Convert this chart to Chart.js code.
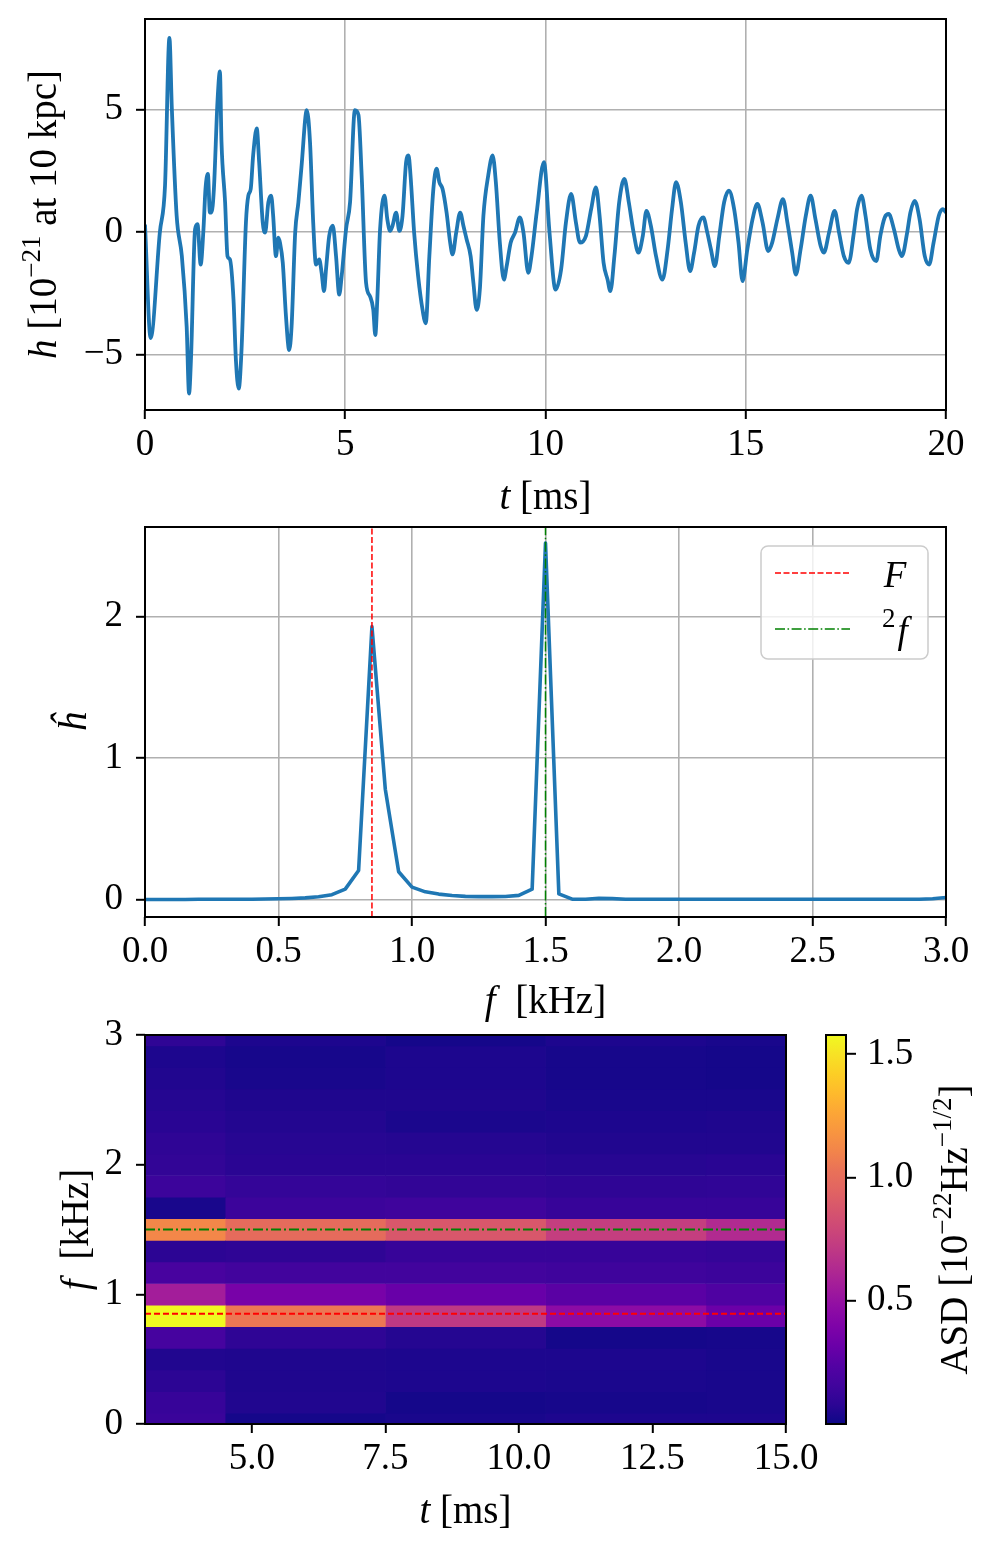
<!DOCTYPE html>
<html>
<head>
<meta charset="utf-8">
<script src="https://cdn.jsdelivr.net/npm/chart.js@4.4.1/dist/chart.umd.min.js"></script>
<style>
  html, body { margin: 0; padding: 0; background: #fff; }
  #page { position: relative; width: 997px; height: 1553px; background: #fff; }
  canvas { position: absolute; }
</style>
</head>
<body>
<div id="page">
  <canvas id="strainChart" width="997" height="520" style="left:0px;top:0px"></canvas>
  <canvas id="spectrumChart" width="997" height="510" style="left:0px;top:520px"></canvas>
  <canvas id="specgramChart" width="997" height="548" style="left:0px;top:1005px"></canvas>
  <canvas id="colorbarChart" width="197" height="548" style="left:800px;top:1005px"></canvas>
</div>
<script>
// ---- strain h(t) (t in ms, h in 1e-21) ----
const strainTimeMs = [
  0.00, 0.14, 0.37, 0.50, 0.61, 0.67, 0.79, 0.92, 1.04, 1.10,
  1.15, 1.25, 1.31, 1.39, 1.46, 1.51, 1.57, 1.62, 1.66, 1.72,
  1.81, 1.87, 1.91, 2.00, 2.06, 2.12, 2.21, 2.27, 2.34, 2.41,
  2.52, 2.58, 2.64, 2.70, 2.79, 2.85, 2.94, 3.00, 3.08, 3.15,
  3.20, 3.27, 3.33, 3.37, 3.44, 3.52, 3.60, 3.66, 3.75, 3.83,
  3.91, 4.04, 4.12, 4.20, 4.27, 4.35, 4.41, 4.47, 4.52, 4.60,
  4.69, 4.77, 4.85, 4.91, 5.02, 5.12, 5.24, 5.33, 5.41, 5.52,
  5.62, 5.70, 5.75, 5.80, 5.87, 5.98, 6.05, 6.12, 6.18, 6.27,
  6.35, 6.43, 6.52, 6.58, 6.63, 6.72, 6.82, 6.93, 7.01, 7.10,
  7.20, 7.28, 7.35, 7.43, 7.53, 7.62, 7.68, 7.77, 7.87, 7.95,
  8.03, 8.13, 8.20, 8.28, 8.36, 8.45, 8.57, 8.68, 8.76, 8.86,
  8.96, 9.03, 9.13, 9.24, 9.36, 9.45, 9.57, 9.65, 9.78, 9.96,
  10.10, 10.25, 10.39, 10.51, 10.64, 10.76, 10.86, 11.01, 11.14, 11.26,
  11.35, 11.45, 11.55, 11.62, 11.72, 11.84, 11.97, 12.08, 12.20, 12.32,
  12.43, 12.52, 12.63, 12.76, 12.92, 13.05, 13.16, 13.26, 13.38, 13.50,
  13.61, 13.71, 13.82, 13.94, 14.04, 14.13, 14.23, 14.34, 14.46, 14.58,
  14.71, 14.82, 14.92, 15.04, 15.17, 15.29, 15.42, 15.56, 15.66, 15.79,
  15.93, 16.04, 16.16, 16.25, 16.37, 16.50, 16.62, 16.74, 16.87, 16.95,
  17.08, 17.22, 17.33, 17.45, 17.57, 17.70, 17.78, 17.89, 17.99, 18.11,
  18.26, 18.36, 18.47, 18.57, 18.70, 18.82, 18.90, 19.03, 19.11, 19.22,
  19.34, 19.47, 19.58, 19.69, 19.82, 19.92, 20.00
];
const strainH = [
  0.30, -4.34, -0.03, 1.89, 7.92, 5.04, 0.66, -0.99, -3.86, -6.60,
  -5.10, 0.11, 0.32, -1.33, 0.11, 1.75, 2.37, 0.79, 0.79, 1.75,
  5.32, 6.55, 3.67, 1.21, -0.99, -1.12, -2.77, -5.23, -6.40, -4.82,
  0.38, 1.48, 1.75, 3.12, 4.22, 2.85, 0.38, -0.03, 1.21, 1.48,
  0.66, -0.99, -0.23, -0.44, -1.26, -3.45, -4.82, -3.86, -0.03, 1.21,
  2.71, 4.97, 3.67, 0.38, -1.33, -1.12, -1.67, -2.42, -1.53, -0.16,
  0.25, -0.99, -2.56, -1.81, 0.11, 1.21, 4.97, 4.77, 2.30, -2.08,
  -2.63, -3.18, -4.21, -2.77, 0.11, 1.48, 0.52, 0.04, 0.25, 0.79,
  0.04, 0.66, 2.85, 3.12, 2.30, -0.03, -1.81, -3.18, -3.73, -0.99,
  1.75, 2.58, 2.03, 1.75, 0.79, -0.44, -0.92, -0.03, 0.79, 0.25,
  -0.30, -0.99, -2.08, -3.18, -2.36, 0.66, 2.30, 3.12, 2.03, -0.44,
  -1.95, -1.40, -0.44, -0.03, 0.59, -0.03, -1.67, -0.99, 0.79, 2.85,
  -0.03, -2.36, -1.53, 0.38, 1.55, 0.38, -0.44, -0.16, 0.93, 1.82,
  0.66, -1.26, -1.95, -2.42, -0.99, 1.21, 2.16, 1.21, -0.03, -0.85,
  -0.16, 0.86, 0.25, -0.99, -1.95, -0.71, 0.93, 2.03, 1.21, -0.44,
  -1.60, -0.85, 0.25, 0.59, -0.03, -0.71, -1.40, -0.16, 1.21, 1.68,
  0.93, -0.44, -2.01, -0.71, 0.52, 1.14, 0.38, -0.78, -0.44, 0.52,
  1.34, 0.38, -0.85, -1.74, -0.71, 0.66, 1.48, 0.52, -0.58, -0.85,
  -0.03, 0.86, -0.03, -0.99, -1.26, -0.03, 0.93, 1.48, 0.66, -0.71,
  -1.19, -0.16, 0.59, 0.73, 0.11, -0.71, -0.99, -0.03, 0.79, 1.27,
  0.52, -0.99, -1.33, -0.44, 0.66, 0.93, 0.80
];

// ---- spectrum |h^|(f), f in kHz ----
const specFreqKHz = [
  0.00, 0.05, 0.10, 0.15, 0.20, 0.25, 0.30, 0.35, 0.40, 0.45,
  0.50, 0.55, 0.60, 0.65, 0.70, 0.75, 0.80, 0.85, 0.90, 0.95,
  1.00, 1.05, 1.10, 1.15, 1.20, 1.25, 1.30, 1.35, 1.40, 1.45,
  1.50, 1.55, 1.60, 1.65, 1.70, 1.75, 1.80, 1.85, 1.90, 1.95,
  2.00, 2.05, 2.10, 2.15, 2.20, 2.25, 2.30, 2.35, 2.40, 2.45,
  2.50, 2.55, 2.60, 2.65, 2.70, 2.75, 2.80, 2.85, 2.90, 2.95, 3.00
];
const specAmp = [
  0.000, 0.000, 0.000, 0.000, 0.001, 0.001, 0.001, 0.002, 0.002, 0.003,
  0.005, 0.007, 0.011, 0.019, 0.034, 0.073, 0.205, 1.930, 0.780, 0.196,
  0.087, 0.054, 0.038, 0.028, 0.022, 0.020, 0.020, 0.021, 0.029, 0.073,
  2.520, 0.040, 0.002, 0.002, 0.008, 0.006, 0.002, 0.001, 0.002, 0.001,
  0.001, 0.001, 0.002, 0.001, 0.001, 0.001, 0.001, 0.001, 0.001, 0.001,
  0.001, 0.001, 0.001, 0.001, 0.001, 0.001, 0.002, 0.002, 0.002, 0.005, 0.014
];
const peakF = 0.85;   // F
const peak2f = 1.5;   // ^2 f

// ---- spectrogram, ASD in 1e-22 Hz^-1/2 ----
const gramTimeEdges = [1.5, 4.5, 7.5, 10.5, 13.5, 16.5];
const gramFreqKHz = [
  0.0000, 0.1667, 0.3333, 0.5000, 0.6667, 0.8333, 1.0000, 1.1667, 1.3333, 1.5000,
  1.6667, 1.8333, 2.0000, 2.1667, 2.3333, 2.5000, 2.6667, 2.8333, 3.0000
];
const asdT3 =  [0.13, 0.12, 0.08, 0.05, 0.18, 1.577, 0.56, 0.19, 0.08, 1.12, 0.03, 0.14, 0.10, 0.09, 0.07, 0.06, 0.05, 0.04, 0.09];
const asdT6 =  [0.02, 0.05, 0.045, 0.045, 0.09, 1.05, 0.37, 0.16, 0.09, 0.99, 0.14, 0.11, 0.075, 0.065, 0.055, 0.045, 0.03, 0.025, 0.04];
const asdT9 =  [0.03, 0.02, 0.04, 0.04, 0.06, 0.71, 0.31, 0.16, 0.12, 0.88, 0.15, 0.10, 0.075, 0.06, 0.035, 0.045, 0.04, 0.04, 0.02];
const asdT12 = [0.04, 0.025, 0.035, 0.04, 0.02, 0.46, 0.26, 0.15, 0.12, 0.74, 0.12, 0.09, 0.065, 0.05, 0.04, 0.03, 0.025, 0.025, 0.04];
const asdT15 = [0.04, 0.03, 0.03, 0.03, 0.025, 0.32, 0.22, 0.14, 0.11, 0.63, 0.12, 0.095, 0.07, 0.05, 0.045, 0.03, 0.02, 0.02, 0.03];
const asdColumns = [asdT3, asdT6, asdT9, asdT12, asdT15];
const cbMin = 0.0;
const cbMax = 1.577;

// ---- ticks ----
const strainTicksX = [0, 5, 10, 15, 20];
const strainTicksY = [-5, 0, 5];
const specTicksX = [0, 0.5, 1.0, 1.5, 2.0, 2.5, 3.0];
const specTicksY = [0, 1, 2];
const gramTicksX = [5, 7.5, 10, 12.5, 15];
const gramTicksY = [0, 1, 2, 3];
const cbTicks = [0.5, 1.0, 1.5];

const SERIF = '"Liberation Serif", "Times New Roman", serif';
const BLUE = '#1f77b4';
const TICK_SIZE = 37;
const TITLE_SIZE = 39;
const SUP_SIZE = 27;
const SUP_RISE = 16;

const PLASMA = ['#0d0887', '#2c0594', '#41049d', '#5302a3', '#6a00a8', '#7e03a8', '#8f0da4',
  '#a11b9b', '#b12a90', '#bf3984', '#cc4778', '#d6556d', '#e16462', '#e97158', '#f2844b',
  '#f89540', '#fca636', '#feba2c', '#fcce25', '#f7e225', '#f0f921'];

function plasma(t) {
  t = Math.max(0, Math.min(1, t));
  const pos = t * (PLASMA.length - 1);
  const i = Math.min(PLASMA.length - 2, Math.floor(pos));
  const f = pos - i;
  const a = PLASMA[i], b = PLASMA[i + 1];
  const ch = (c, k) => parseInt(c.substr(1 + 2 * k, 2), 16);
  const mix = k => Math.round(ch(a, k) + (ch(b, k) - ch(a, k)) * f);
  return `rgb(${mix(0)},${mix(1)},${mix(2)})`;
}

function minusFmt(v) {
  return v < 0 ? '\u2212' + Math.abs(v) : String(v);
}

// draw a label made of pieces (italic / superscript), centred on (x, y) baseline
function drawRich(ctx, parts, x, y, rotate) {
  ctx.save();
  ctx.translate(x, y);
  if (rotate) ctx.rotate(-Math.PI / 2);
  ctx.textBaseline = 'alphabetic';
  ctx.textAlign = 'left';
  ctx.fillStyle = '#000';
  let total = 0;
  const pieces = parts.map(p => {
    const size = p.sup ? SUP_SIZE : (p.size || TITLE_SIZE);
    const font = (p.it ? 'italic ' : '') + size + 'px ' + SERIF;
    ctx.font = font;
    const w = ctx.measureText(p.t).width;
    total += w;
    return { t: p.t, font, w, rise: p.sup ? SUP_RISE : 0 };
  });
  let cx = -total / 2;
  pieces.forEach(p => {
    ctx.font = p.font;
    ctx.fillText(p.t, cx, -p.rise);
    cx += p.w;
  });
  ctx.restore();
}

// frame round the plot area + axis titles
function framePlugin(titles) {
  return {
    id: 'frameTitles',
    afterDatasetsDraw(chart) {
      const { ctx, chartArea: a } = chart;
      ctx.save();
      ctx.strokeStyle = '#000';
      ctx.lineWidth = 2;
      ctx.strokeRect(a.left, a.top, a.right - a.left, a.bottom - a.top);
      ctx.restore();
    },
    afterDraw(chart) {
      const a = chart.chartArea;
      titles.forEach(t => drawRich(chart.ctx, t.parts, t.x(a), t.y(a), t.rotate));
    }
  };
}

function axis(o) {
  return {
    type: 'linear',
    min: o.min,
    max: o.max,
    offset: false,
    position: o.position,
    afterBuildTicks: s => { s.ticks = o.ticks.map(v => ({ value: v })); },
    afterFit: s => {
      if (o.width) s.width = o.width;
      if (o.height) s.height = o.height;
      s.paddingLeft = 0; s.paddingRight = 0; s.paddingTop = 0; s.paddingBottom = 0;
    },
    border: { display: false },
    grid: {
      drawOnChartArea: o.grid,
      offset: false,
      color: '#b0b0b0',
      lineWidth: 1.6,
      drawTicks: true,
      tickLength: o.tickLength || 9,
      tickWidth: 2,
      tickColor: '#000'
    },
    ticks: {
      font: { family: SERIF, size: TICK_SIZE },
      color: '#000',
      padding: o.pad,
      maxRotation: 0,
      autoSkip: false,
      callback: o.fmt
    }
  };
}

const baseOptions = {
  responsive: false,
  animation: false,
  devicePixelRatio: 1,
  events: []
};

// ---------- top panel: strain ----------
new Chart(document.getElementById('strainChart'), {
  type: 'line',
  data: {
    datasets: [{
      data: strainTimeMs.map((t, i) => ({ x: t, y: strainH[i] })),
      borderColor: BLUE,
      borderWidth: 3.8,
      borderJoinStyle: 'round',
      pointRadius: 0,
      cubicInterpolationMode: 'monotone',
      fill: false
    }]
  },
  options: {
    ...baseOptions,
    layout: { padding: { top: 19, right: 51, left: 0, bottom: 0 } },
    plugins: { legend: { display: false }, tooltip: { enabled: false } },
    scales: {
      x: axis({ min: 0, max: 20, ticks: strainTicksX, height: 110, grid: true, pad: 4, fmt: v => String(v) }),
      y: axis({ min: -7.27, max: 8.69, ticks: strainTicksY, width: 145, grid: true, pad: 13, fmt: minusFmt })
    }
  },
  plugins: [framePlugin([
    { parts: [{ t: 't', it: true }, { t: ' [ms]' }], x: a => (a.left + a.right) / 2, y: a => 509 },
    { parts: [{ t: 'h', it: true }, { t: ' [10' }, { t: '\u221221', sup: true }, { t: ' at 10 kpc]' }],
      x: a => 56, y: a => (a.top + a.bottom) / 2, rotate: true }
  ])]
});

// ---------- middle panel: spectrum ----------
const legendPlugin = {
  id: 'specLegend',
  afterDatasetsDraw(chart) {
    const ctx = chart.ctx;
    ctx.save();
    ctx.beginPath();
    ctx.roundRect(761, 26, 167, 113, 7);
    ctx.fillStyle = 'rgba(255,255,255,0.8)';
    ctx.fill();
    ctx.strokeStyle = '#cccccc';
    ctx.lineWidth = 1.5;
    ctx.stroke();
    const rows = [53, 109];
    [0, 1].forEach((di, k) => {
      const ds = chart.data.datasets[di];
      ctx.beginPath();
      ctx.setLineDash(ds.borderDash);
      ctx.strokeStyle = ds.borderColor;
      ctx.lineWidth = ds.borderWidth;
      ctx.moveTo(775, rows[k]);
      ctx.lineTo(850, rows[k]);
      ctx.stroke();
    });
    ctx.setLineDash([]);
    ctx.restore();
    drawRich(ctx, [{ t: 'F', it: true, size: TICK_SIZE }], 895, 67, false);
    drawRich(ctx, [{ t: '2', sup: true }, { t: ' ', size: 8 }, { t: 'f', it: true, size: TICK_SIZE }], 895, 123, false);
  }
};

new Chart(document.getElementById('spectrumChart'), {
  type: 'line',
  data: {
    datasets: [
      {
        label: 'F',
        data: [{ x: peakF, y: -0.124 }, { x: peakF, y: 2.634 }],
        borderColor: '#ff0000', borderWidth: 1.5, borderDash: [6, 2.5],
        pointRadius: 0, order: 0
      },
      {
        label: '2f',
        data: [{ x: peak2f, y: -0.124 }, { x: peak2f, y: 2.634 }],
        borderColor: '#008000', borderWidth: 1.5, borderDash: [10, 2.5, 1.6, 2.5],
        pointRadius: 0, order: 0
      },
      {
        data: specFreqKHz.map((f, i) => ({ x: f, y: specAmp[i] })),
        borderColor: BLUE, borderWidth: 3.6, borderJoinStyle: 'round',
        pointRadius: 0, tension: 0, order: 1
      }
    ]
  },
  options: {
    ...baseOptions,
    layout: { padding: { top: 7, right: 51, left: 0, bottom: 0 } },
    plugins: { legend: { display: false }, tooltip: { enabled: false } },
    scales: {
      x: axis({ min: 0, max: 3, ticks: specTicksX, height: 113, grid: true, pad: 4, fmt: v => v.toFixed(1) }),
      y: axis({ min: -0.124, max: 2.634, ticks: specTicksY, width: 145, grid: true, pad: 13, fmt: v => String(v) })
    }
  },
  plugins: [framePlugin([
    { parts: [{ t: 'f', it: true }, { t: '  [kHz]' }], x: a => (a.left + a.right) / 2, y: a => 493 },
    { parts: [{ t: '\u0125', it: true }], x: a => 86, y: a => (a.top + a.bottom) / 2, rotate: true }
  ]), legendPlugin]
});

// ---------- bottom panel: spectrogram ----------
const gramDatasets = asdColumns.map((col, ci) => ({
  type: 'bar',
  indexAxis: 'y',
  data: gramFreqKHz.map(f => ({ y: f, x: [gramTimeEdges[ci], gramTimeEdges[ci + 1]] })),
  backgroundColor: col.map(v => plasma((v - cbMin) / (cbMax - cbMin))),
  borderWidth: 0,
  grouped: false,
  barPercentage: 1,
  categoryPercentage: 1,
  order: 2
}));

new Chart(document.getElementById('specgramChart'), {
  type: 'bar',
  data: {
    datasets: [
      {
        type: 'line', indexAxis: 'x',
        data: [{ x: 3, y: peakF }, { x: 15, y: peakF }],
        borderColor: '#ff0000', borderWidth: 2, borderDash: [6, 3], pointRadius: 0, order: 0
      },
      {
        type: 'line', indexAxis: 'x',
        data: [{ x: 3, y: peak2f }, { x: 15, y: peak2f }],
        borderColor: '#008000', borderWidth: 2, borderDash: [10, 3, 2, 3], pointRadius: 0, order: 0
      },
      ...gramDatasets
    ]
  },
  options: {
    ...baseOptions,
    layout: { padding: { top: 30, right: 211, left: 0, bottom: 0 } },
    plugins: { legend: { display: false }, tooltip: { enabled: false } },
    scales: {
      x: axis({ min: 3, max: 15, ticks: gramTicksX, height: 129, grid: false, pad: 4, fmt: v => v.toFixed(1) }),
      y: axis({ min: 0, max: 3, ticks: gramTicksY, width: 145, grid: false, pad: 13, fmt: v => String(v) })
    }
  },
  plugins: [framePlugin([
    { parts: [{ t: 't', it: true }, { t: ' [ms]' }], x: a => (a.left + a.right) / 2, y: a => 518 },
    { parts: [{ t: 'f', it: true }, { t: '  [kHz]' }], x: a => 88, y: a => (a.top + a.bottom) / 2, rotate: true }
  ])]
});

// ---------- colorbar ----------
new Chart(document.getElementById('colorbarChart'), {
  type: 'bar',
  data: {
    labels: ['ASD'],
    datasets: [{
      data: [[cbMin, cbMax]],
      backgroundColor: c => {
        const ch = c.chart;
        if (!ch.chartArea) return PLASMA[0];
        const ys = ch.scales.y;
        const g = ch.ctx.createLinearGradient(0, ys.getPixelForValue(cbMin), 0, ys.getPixelForValue(cbMax));
        PLASMA.forEach((col, i) => g.addColorStop(i / (PLASMA.length - 1), col));
        return g;
      },
      borderWidth: 0,
      barPercentage: 1,
      categoryPercentage: 1
    }]
  },
  options: {
    ...baseOptions,
    layout: { padding: { top: 30, right: 0, left: 26, bottom: 129 } },
    plugins: { legend: { display: false }, tooltip: { enabled: false } },
    scales: {
      x: { display: false },
      y: axis({ min: cbMin, max: cbMax, ticks: cbTicks, position: 'right', width: 151, grid: false,
                pad: 11, tickLength: 10, fmt: v => v.toFixed(1) })
    }
  },
  plugins: [framePlugin([
    { parts: [{ t: 'ASD [10' }, { t: '\u221222', sup: true }, { t: 'Hz' }, { t: '\u22121/2', sup: true }, { t: ']' }],
      x: a => 167, y: a => (a.top + a.bottom) / 2, rotate: true }
  ])]
});
</script>
</body>
</html>
